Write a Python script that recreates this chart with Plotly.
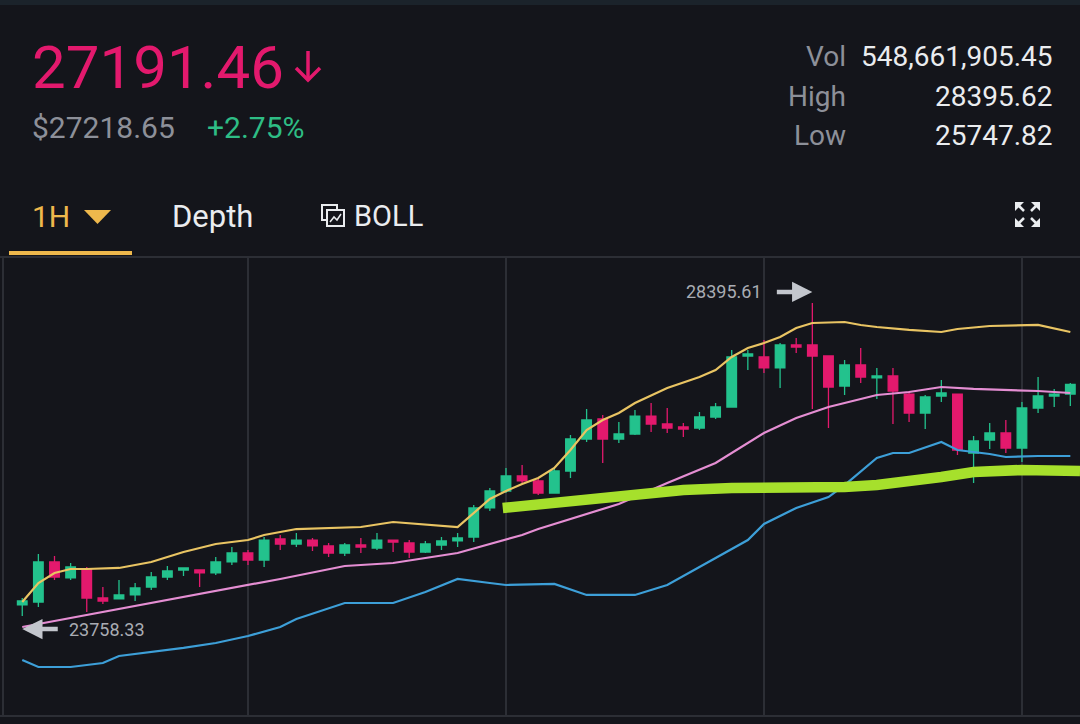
import plotly.graph_objects as go

# ---------------- data ----------------
idx = list(range(66))
opens = [23922, 23966, 24559, 24322, 24455, 24025, 24011, 24070, 24188, 24336,
         24440, 24440, 24396, 24559, 24692, 24588, 24899, 24825, 24884, 24796,
         24692, 24810, 24766, 24884, 24840, 24707, 24810, 24870, 24929, 25359,
         25610, 25833, 25759, 25581, 25907, 26381, 26677, 26381, 26455, 26721,
         26603, 26559, 26544, 26707, 26855, 27610, 27596, 27433, 27773, 27773,
         27610, 27166, 27477, 27285, 27314, 27047, 26766, 27018, 27047, 26173,
         26366, 26470, 26247, 26840, 27018, 27047]
highs = [24025, 24677, 24648, 24544, 24485, 24188, 24292, 24247, 24410, 24499,
         24470, 24440, 24633, 24781, 24736, 24929, 24958, 24988, 24914, 24840,
         24840, 24914, 24988, 24884, 24884, 24870, 24929, 24988, 25403, 25655,
         25951, 25996, 25803, 25951, 26440, 26825, 26736, 26633, 26810, 26914,
         26840, 26618, 26781, 26914, 27699, 27699, 27848, 27803, 27877, 28395.61,
         27610, 27551, 27729, 27433, 27433, 27092, 27033, 27255, 27047, 26425,
         26618, 26662, 26929, 27299, 27122, 27210]
lows = [23758.33, 23892, 24292, 24292, 23818, 23937, 24011, 23981, 24144, 24292,
        24351, 24188, 24366, 24514, 24514, 24485, 24736, 24781, 24722, 24633,
        24648, 24692, 24736, 24707, 24618, 24692, 24736, 24781, 24855, 25314,
        25581, 25729, 25551, 25581, 25803, 26336, 26025, 26322, 26440, 26485,
        26470, 26411, 26514, 26677, 26855, 27403, 27359, 27136, 27655, 26825,
        26544, 27033, 27210, 26973, 26603, 26633, 26529, 26929, 26144, 25729,
        26233, 26173, 26040, 26766, 26855, 26870]
closes = [23981, 24559, 24336, 24485, 24025, 23981, 24070, 24173, 24336, 24425,
          24470, 24396, 24559, 24692, 24588, 24884, 24825, 24884, 24796, 24692,
          24810, 24781, 24884, 24855, 24707, 24825, 24870, 24914, 25359, 25610,
          25833, 25759, 25581, 25907, 26381, 26662, 26381, 26455, 26721, 26603,
          26544, 26529, 26707, 26855, 27596, 27640, 27433, 27773, 27744, 27610,
          27151, 27477, 27299, 27314, 27092, 26766, 27003, 27062, 26218, 26351,
          26470, 26247, 26840, 27018, 27047, 27191]

up_x = [0, 1, 2, 3, 4, 6, 8, 10, 12, 14, 15, 17, 21, 23, 27, 28, 29, 30, 31, 32,
        33, 34, 35, 36, 37, 38, 40, 42, 43, 44, 45, 46, 47, 48, 49, 51, 52, 53,
        55, 57, 58, 60, 62, 63, 65]
up_y = [23966, 24247, 24396, 24455, 24455, 24470, 24559, 24707, 24825, 24884,
        24958, 25047, 25077, 25151, 25077, 25284, 25492, 25610, 25714, 25803,
        25951, 26218, 26514, 26662, 26766, 26914, 27136, 27299, 27403, 27596,
        27729, 27803, 27892, 28025, 28099, 28114, 28070, 28040, 27996, 27966,
        28010, 28055, 28070, 28070, 27966]

mid_x = [0, 3, 7, 11, 15, 16, 20, 23, 27, 30, 31, 32, 37, 40, 43, 46, 48, 50,
         53, 55, 57, 59, 61, 63, 65]
mid_y = [23596, 23729, 23907, 24085, 24262, 24307, 24499, 24544, 24692, 24884,
         24958, 25047, 25418, 25729, 26025, 26470, 26692, 26855, 27033, 27077,
         27151, 27122, 27107, 27092, 27062]

low_x = [0, 1, 3, 5, 6, 8, 10, 12, 14, 16, 17, 20, 23, 25, 27, 29, 30, 33, 35,
         38, 40, 42, 45, 46, 48, 50, 51, 53, 54, 55, 57, 58, 60, 61, 63, 65]
low_y = [23107, 23003, 23003, 23062, 23166, 23225, 23285, 23359, 23462, 23596,
         23714, 23951, 23951, 24114, 24307, 24247, 24218, 24233, 24070, 24070,
         24218, 24485, 24884, 25122, 25359, 25521, 25699, 26099, 26173, 26173,
         26336, 26218, 26158, 26114, 26129, 26129]

mark_x = [29.8, 32, 35, 38, 41, 44, 48, 51, 53, 55, 57, 59, 62, 65.6]
mark_y = [25359, 25418, 25492, 25566, 25625, 25655, 25655, 25670, 25699, 25744,
          25818, 25892, 25922, 25907]

grid_idx = [14, 30, 46, 62]

# ---------------- style ----------------
BG = "#14151b"
GREEN = "#23c28d"
RED = "#e3196d"
W, H = 1080, 724
TOP, BOT = 257, 716


def px(x):
    return x / W


def py(y):
    return (BOT - y) / (BOT - TOP)


def path(points, close=False):
    s = "M " + " L ".join(f"{px(a):.5f},{py(b):.5f}" for a, b in points)
    return s + (" Z" if close else "")


fig = go.Figure()
fig.add_trace(go.Candlestick(
    x=idx, open=opens, high=highs, low=lows, close=closes,
    increasing=dict(line=dict(color=GREEN, width=1.3), fillcolor=GREEN),
    decreasing=dict(line=dict(color=RED, width=1.3), fillcolor=RED),
    whiskerwidth=0, showlegend=False, hoverinfo="skip"))
fig.add_trace(go.Scatter(x=low_x, y=low_y, mode="lines",
                         line=dict(color="#3d9fd8", width=2.2), hoverinfo="skip"))
fig.add_trace(go.Scatter(x=mid_x, y=mid_y, mode="lines",
                         line=dict(color="#e58ed3", width=2.2), hoverinfo="skip"))
fig.add_trace(go.Scatter(x=up_x, y=up_y, mode="lines",
                         line=dict(color="#e9c463", width=2.2), hoverinfo="skip"))
fig.add_trace(go.Scatter(x=mark_x, y=mark_y, mode="lines",
                         line=dict(color="#a6e02c", width=10.5), hoverinfo="skip"))

shapes = [
    dict(type="rect", xref="paper", yref="paper", x0=0, x1=1, y0=py(5), y1=py(0),
         fillcolor="#1b232b", line=dict(width=0), layer="below"),
    dict(type="rect", xref="paper", yref="paper", x0=px(9), x1=px(132),
         y0=py(255), y1=py(251), fillcolor="#eeb84c", line=dict(width=0)),
    dict(type="line", xref="paper", yref="paper", x0=0, x1=1, y0=py(257), y1=py(257),
         line=dict(color="#2c2e35", width=2)),
    dict(type="line", xref="paper", yref="paper", x0=0, x1=1, y0=py(716), y1=py(716),
         line=dict(color="#2c2e35", width=2)),
    dict(type="line", xref="paper", yref="paper", x0=px(3), x1=px(3), y0=0, y1=1,
         line=dict(color="#2c2e35", width=2)),
    # dropdown triangle
    dict(type="path", xref="paper", yref="paper",
         path=path([(84, 210), (111, 210), (97.5, 224)], True),
         fillcolor="#eeb84c", line=dict(width=0)),
    # down arrow next to price
    dict(type="path", xref="paper", yref="paper",
         path=path([(308, 51), (308, 80)]), line=dict(color=RED, width=3.5)),
    dict(type="path", xref="paper", yref="paper",
         path=path([(296, 68), (308, 80), (320, 68)]), line=dict(color=RED, width=3.5)),
    # BOLL icon
    dict(type="path", xref="paper", yref="paper",
         path=path([(322, 205), (337, 205), (337, 220), (322, 220)], True),
         line=dict(color="#eaecef", width=2)),
    dict(type="path", xref="paper", yref="paper",
         path=path([(327, 210), (344, 210), (344, 226), (327, 226)], True),
         fillcolor=BG, line=dict(color="#eaecef", width=2)),
    dict(type="path", xref="paper", yref="paper",
         path=path([(330, 222), (334, 217), (337, 220), (341, 214)]),
         line=dict(color="#eaecef", width=1.5)),
]
# expand icon
for (cx, cy, sx, sy) in [(1015, 202, 1, 1), (1040, 202, -1, 1), (1015, 227, 1, -1), (1040, 227, -1, -1)]:
    shapes.append(dict(type="path", xref="paper", yref="paper",
                       path=path([(cx, cy), (cx + 9 * sx, cy), (cx, cy + 9 * sy)], True),
                       fillcolor="#eaecef", line=dict(width=0)))
    shapes.append(dict(type="path", xref="paper", yref="paper",
                       path=path([(cx + 2 * sx, cy + 2 * sy), (cx + 9 * sx, cy + 9 * sy)]),
                       line=dict(color="#eaecef", width=2.5)))

F = "Roboto"


def txt(text, x, y, size, color, anchor="left"):
    return dict(text=text, x=px(x), y=py(y), xref="paper", yref="paper",
                xanchor=anchor, yanchor="middle", showarrow=False,
                font=dict(family=F, size=size, color=color))


annotations = [
    txt("27191.46", 30, 68, 60, RED),
    txt("$27218.65", 30, 127, 30, "#8d9099"),
    txt("+2.75%", 205, 127, 30, "#2ebd85"),
    txt("Vol", 848, 56, 28, "#8d9099", "right"),
    txt("548,661,905.45", 1055, 56, 28, "#eaecef", "right"),
    txt("High", 848, 96, 28, "#8d9099", "right"),
    txt("28395.62", 1055, 96, 28, "#eaecef", "right"),
    txt("Low", 848, 136, 28, "#8d9099", "right"),
    txt("25747.82", 1055, 136, 28, "#eaecef", "right"),
    txt("1H", 30, 216, 30, "#eeb84c"),
    txt("Depth", 170, 216, 31, "#eaecef"),
    txt("BOLL", 352, 216, 29, "#eaecef"),
    # high / low markers
    dict(text="", x=49, y=28395.61, xref="x", yref="y", showarrow=True,
         ax=-37, ay=0, yshift=11, arrowhead=2, arrowsize=0.9, arrowwidth=4.5,
         arrowcolor="#c3c6cd"),
    dict(text="28395.61", x=49, y=28395.61, xref="x", yref="y", showarrow=False,
         xanchor="right", yanchor="middle", xshift=-48, yshift=11,
         font=dict(family=F, size=18, color="#a9acb3")),
    dict(text="", x=0, y=23758.33, xref="x", yref="y", showarrow=True,
         ax=37, ay=0, yshift=-13, arrowhead=2, arrowsize=0.9, arrowwidth=4.5,
         arrowcolor="#c3c6cd"),
    dict(text="23758.33", x=0, y=23758.33, xref="x", yref="y", showarrow=False,
         xanchor="left", yanchor="middle", xshift=45, yshift=-13,
         font=dict(family=F, size=18, color="#a9acb3")),
]

fig.update_layout(
    width=W, height=H,
    margin=dict(l=0, r=0, t=TOP, b=H - BOT, pad=0),
    paper_bgcolor=BG, plot_bgcolor=BG,
    showlegend=False, boxgap=0.15, hovermode=False,
    shapes=shapes, annotations=annotations,
    xaxis=dict(range=[-1.38, 65.6], tickvals=grid_idx, showticklabels=False,
               showgrid=True, gridcolor="#2c2e35", gridwidth=1.5, zeroline=False,
               showline=False, ticks="", rangeslider=dict(visible=False), fixedrange=True),
    yaxis=dict(range=[22277, 29077], showgrid=False, showticklabels=False,
               zeroline=False, showline=False, ticks="", fixedrange=True),
)

fig.write_html("out.html", config={"displayModeBar": False})
